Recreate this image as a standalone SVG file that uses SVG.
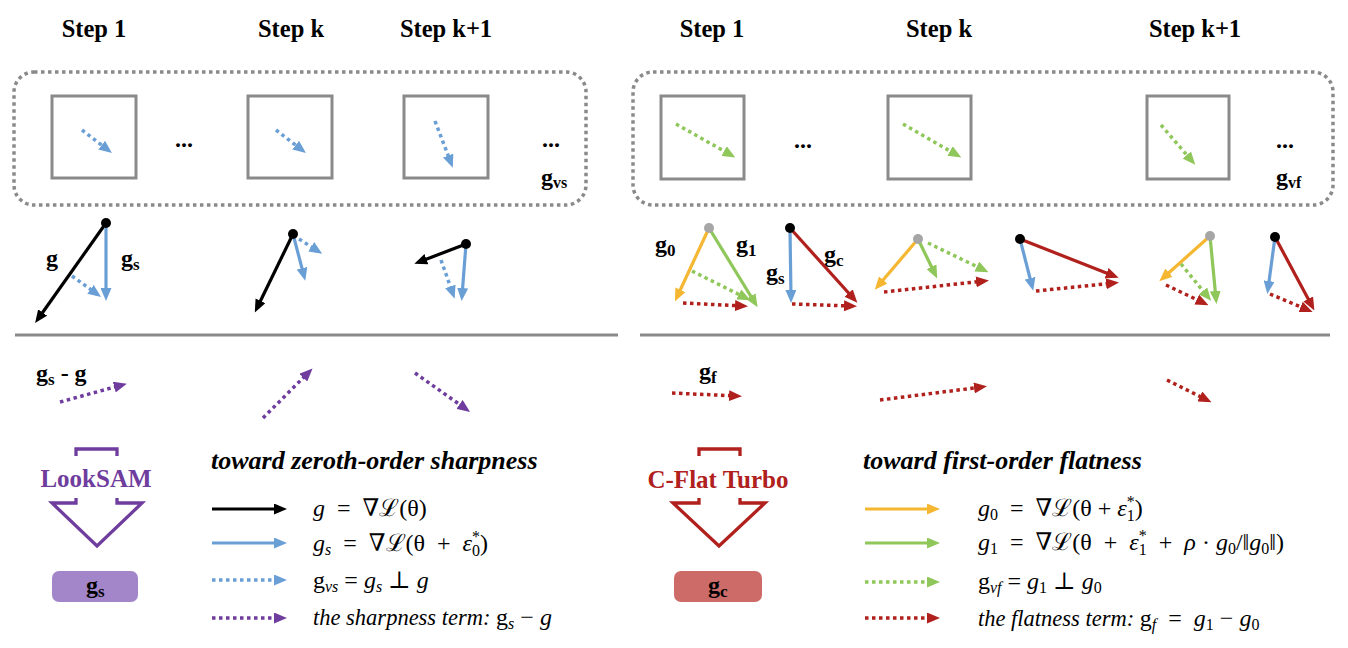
<svg xmlns="http://www.w3.org/2000/svg" width="1348" height="648" viewBox="0 0 1348 648">
<style>
.title{font-family:"Liberation Serif",serif;font-weight:bold;font-size:24.5px;text-anchor:middle;fill:#000}
.lbl{font-family:"Liberation Serif",serif;font-weight:bold;font-size:24px;fill:#000}
.f{font-family:"Liberation Serif","DejaVu Serif",serif;font-size:24px;fill:#000}
.it{font-style:italic;font-size:22.5px}
.hd{font-family:"Liberation Serif",serif;font-weight:bold;font-style:italic;font-size:26px;fill:#000}
.box{fill:none;stroke:#8a8a8a;stroke-width:3}
.frame{fill:none;stroke:#8a8a8a;stroke-width:3.5;stroke-dasharray:3.5 3.5}
.sep{stroke:#8a8a8a;stroke-width:3}
.a{fill:none;stroke-width:3.2}
.d{stroke-dasharray:3.5 3.5;stroke-width:3.5}
.k{stroke:#000}.b{stroke:#6a9fd6}.g{stroke:#8fc75a}.y{stroke:#f5b731}.r{stroke:#b0201c}.p{stroke:#6f3d9e}
</style>
<defs>
<marker id="mk" markerUnits="userSpaceOnUse" markerWidth="13" markerHeight="11" refX="8" refY="5.5" orient="auto"><path d="M0,0 L13,5.5 L0,11 z" fill="#000"/></marker>
<marker id="mb" markerUnits="userSpaceOnUse" markerWidth="13" markerHeight="11" refX="8" refY="5.5" orient="auto"><path d="M0,0 L13,5.5 L0,11 z" fill="#6a9fd6"/></marker>
<marker id="mg" markerUnits="userSpaceOnUse" markerWidth="13" markerHeight="11" refX="8" refY="5.5" orient="auto"><path d="M0,0 L13,5.5 L0,11 z" fill="#8fc75a"/></marker>
<marker id="my" markerUnits="userSpaceOnUse" markerWidth="13" markerHeight="11" refX="8" refY="5.5" orient="auto"><path d="M0,0 L13,5.5 L0,11 z" fill="#f5b731"/></marker>
<marker id="mr" markerUnits="userSpaceOnUse" markerWidth="13" markerHeight="11" refX="8" refY="5.5" orient="auto"><path d="M0,0 L13,5.5 L0,11 z" fill="#b0201c"/></marker>
<marker id="mp" markerUnits="userSpaceOnUse" markerWidth="13" markerHeight="11" refX="8" refY="5.5" orient="auto"><path d="M0,0 L13,5.5 L0,11 z" fill="#6f3d9e"/></marker>
</defs>
<rect width="1348" height="648" fill="#fff"/>

<g id="titles">
<text class="title" x="94" y="37">Step 1</text>
<text class="title" x="291" y="37">Step k</text>
<text class="title" x="446" y="37">Step k+1</text>
<text class="title" x="712" y="37">Step 1</text>
<text class="title" x="939" y="37">Step k</text>
<text class="title" x="1195" y="37">Step k+1</text>
</g>

<g id="left-panel">
<rect class="frame" x="14" y="72" width="572" height="133" rx="20"/>
<rect class="box" x="52" y="96" width="84" height="82"/>
<rect class="box" x="248" y="96" width="84" height="82"/>
<rect class="box" x="404" y="96" width="84" height="82"/>
<text class="lbl" x="184" y="147" text-anchor="middle" font-size="20">...</text>
<text class="lbl" x="551" y="147" text-anchor="middle" font-size="20">...</text>
<text class="lbl" x="541" y="185">g<tspan font-size="16" dy="3">vs</tspan></text>
</g>

<g id="right-panel">
<rect class="frame" x="633" y="72" width="700" height="133" rx="20"/>
<rect class="box" x="661" y="96" width="83" height="83"/>
<rect class="box" x="888" y="96" width="83" height="83"/>
<rect class="box" x="1147" y="96" width="82" height="83"/>
<text class="lbl" x="803" y="148" text-anchor="middle" font-size="20">...</text>
<text class="lbl" x="1285" y="148" text-anchor="middle" font-size="20">...</text>
<text class="lbl" x="1276" y="185">g<tspan font-size="16" dy="3">vf</tspan></text>
</g>

<g id="separators">
<line class="sep" x1="15" y1="335" x2="618" y2="335"/>
<line class="sep" x1="640" y1="335" x2="1330" y2="335"/>
</g>

<g id="labels">
<text class="lbl" x="46" y="266">g</text>
<text class="lbl" x="121" y="266">g<tspan font-size="17" dy="4">s</tspan></text>
<text class="lbl" x="655" y="252">g<tspan font-size="17" dy="4">0</tspan></text>
<text class="lbl" x="736" y="252">g<tspan font-size="17" dy="4">1</tspan></text>
<text class="lbl" x="766" y="280">g<tspan font-size="17" dy="4">s</tspan></text>
<text class="lbl" x="824" y="262">g<tspan font-size="17" dy="4">c</tspan></text>
<text class="lbl" x="36" y="381">g<tspan font-size="17" dy="4">s</tspan><tspan dy="-4" dx="6">- g</tspan></text>
<text class="lbl" x="699" y="379">g<tspan font-size="17" dy="4">f</tspan></text>
</g>

<g id="connectors">
<line class="a d b" x1="82" y1="130" x2="108" y2="150" marker-end="url(#mb)"/>
<line class="a d b" x1="276" y1="130" x2="302" y2="150" marker-end="url(#mb)"/>
<line class="a d b" x1="435" y1="121" x2="451" y2="163" marker-end="url(#mb)"/>
<line class="a d g" x1="676" y1="124" x2="731" y2="155" marker-end="url(#mg)"/>
<line class="a d g" x1="903" y1="124" x2="957" y2="155" marker-end="url(#mg)"/>
<line class="a d g" x1="1161" y1="125" x2="1192" y2="161" marker-end="url(#mg)"/>
<line class="a k" x1="106" y1="223" x2="38" y2="319" marker-end="url(#mk)"/>
<line class="a b" x1="106" y1="223" x2="106" y2="296" marker-end="url(#mb)"/>
<line class="a d b" x1="72" y1="276" x2="97" y2="294" marker-end="url(#mb)"/>
<line class="a k" x1="293" y1="234" x2="257" y2="308" marker-end="url(#mk)"/>
<line class="a b" x1="293" y1="234" x2="304" y2="276" marker-end="url(#mb)"/>
<line class="a d b" x1="299" y1="239" x2="318" y2="251" marker-end="url(#mb)"/>
<line class="a k" x1="466" y1="244" x2="419" y2="262" marker-end="url(#mk)"/>
<line class="a b" x1="466" y1="244" x2="462" y2="296" marker-end="url(#mb)"/>
<line class="a d b" x1="441" y1="260" x2="453" y2="294" marker-end="url(#mb)"/>
<line class="a y" x1="709" y1="228" x2="677" y2="297" marker-end="url(#my)"/>
<line class="a g" x1="709" y1="228" x2="755" y2="303" marker-end="url(#mg)"/>
<line class="a d g" x1="692" y1="271" x2="746" y2="298" marker-end="url(#mg)"/>
<line class="a d r" x1="683" y1="303" x2="743" y2="306" marker-end="url(#mr)"/>
<line class="a b" x1="790" y1="228" x2="791" y2="298" marker-end="url(#mb)"/>
<line class="a r" x1="790" y1="228" x2="854" y2="299" marker-end="url(#mr)"/>
<line class="a d r" x1="792" y1="304" x2="852" y2="306" marker-end="url(#mr)"/>
<line class="a y" x1="918" y1="239" x2="878" y2="286" marker-end="url(#my)"/>
<line class="a g" x1="918" y1="239" x2="935" y2="274" marker-end="url(#mg)"/>
<line class="a d g" x1="928" y1="243" x2="984" y2="270" marker-end="url(#mg)"/>
<line class="a d r" x1="884" y1="292" x2="984" y2="281" marker-end="url(#mr)"/>
<line class="a b" x1="1020" y1="239" x2="1032" y2="286" marker-end="url(#mb)"/>
<line class="a r" x1="1020" y1="239" x2="1114" y2="276" marker-end="url(#mr)"/>
<line class="a d r" x1="1036" y1="291" x2="1114" y2="283" marker-end="url(#mr)"/>
<line class="a y" x1="1210" y1="236" x2="1163" y2="278" marker-end="url(#my)"/>
<line class="a g" x1="1210" y1="236" x2="1216" y2="299" marker-end="url(#mg)"/>
<line class="a d g" x1="1181" y1="264" x2="1208" y2="297" marker-end="url(#mg)"/>
<line class="a d r" x1="1166" y1="285" x2="1204" y2="303" marker-end="url(#mr)"/>
<line class="a b" x1="1275" y1="237" x2="1268" y2="289" marker-end="url(#mb)"/>
<line class="a r" x1="1275" y1="237" x2="1312" y2="306" marker-end="url(#mr)"/>
<line class="a d r" x1="1270" y1="294" x2="1308" y2="310" marker-end="url(#mr)"/>
<line class="a d p" x1="60" y1="402" x2="122" y2="385" marker-end="url(#mp)"/>
<line class="a d p" x1="263" y1="418" x2="309" y2="372" marker-end="url(#mp)"/>
<line class="a d p" x1="415" y1="373" x2="466" y2="409" marker-end="url(#mp)"/>
<line class="a d r" x1="672" y1="393" x2="737" y2="396" marker-end="url(#mr)"/>
<line class="a d r" x1="880" y1="400" x2="982" y2="387" marker-end="url(#mr)"/>
<line class="a d r" x1="1167" y1="380" x2="1207" y2="400" marker-end="url(#mr)"/>
</g>

<g id="vertices">
<circle cx="106" cy="223" r="5" fill="#000"/>
<circle cx="293" cy="234" r="5" fill="#000"/>
<circle cx="466" cy="244" r="5" fill="#000"/>
<circle cx="709" cy="228" r="5" fill="#a6a6a6"/>
<circle cx="790" cy="228" r="5" fill="#000"/>
<circle cx="918" cy="239" r="5" fill="#a6a6a6"/>
<circle cx="1020" cy="239" r="5" fill="#000"/>
<circle cx="1210" cy="236" r="5" fill="#a6a6a6"/>
<circle cx="1275" cy="237" r="5" fill="#000"/>
</g>

<g id="looksam">
<path d="M76,456 L76,449 L117,449 L117,456" fill="none" stroke="#6f3d9e" stroke-width="3.3"/>
<text x="96" y="487" text-anchor="middle" font-family="Liberation Serif, serif" font-weight="bold" font-size="25" fill="#6f3d9e">LookSAM</text>
<path d="M76,498 L76,503 L52,503 L97,546 L142,503 L117,503 L117,498" fill="none" stroke="#6f3d9e" stroke-width="3.3"/>
</g>
<g id="gs-result">
<rect x="52" y="571" width="86" height="31" rx="7" fill="#a386c9"/>
<text class="lbl" x="86" y="593">g<tspan font-size="17" dy="4">s</tspan></text>
</g>

<g id="cflat">
<path d="M699,456 L699,449 L740,449 L740,456" fill="none" stroke="#b0201c" stroke-width="3.3"/>
<text x="718" y="488" text-anchor="middle" font-family="Liberation Serif, serif" font-weight="bold" font-size="25" fill="#b0201c">C-Flat Turbo</text>
<path d="M699,498 L699,503 L673,503 L719,546 L765,503 L740,503 L740,498" fill="none" stroke="#b0201c" stroke-width="3.3"/>
</g>
<g id="gc-result">
<rect x="674" y="571" width="88" height="31" rx="7" fill="#cd6b69"/>
<text class="lbl" x="708" y="593">g<tspan font-size="17" dy="4">c</tspan></text>
</g>

<g id="legend-left">
<text class="hd" x="211" y="469">toward zeroth-order sharpness</text>
<line class="a k" x1="212" y1="509" x2="282" y2="509" marker-end="url(#mk)"/>
<line class="a b" x1="212" y1="543" x2="282" y2="543" marker-end="url(#mb)"/>
<line class="a d b" x1="212" y1="580" x2="282" y2="580" marker-end="url(#mb)"/>
<line class="a d p" x1="212" y1="618" x2="282" y2="618" marker-end="url(#mp)"/>
<text class="f" x="313" y="516"><tspan font-style="italic">g</tspan>&#8194;=&#8194;∇ℒ(θ)</text>
<text class="f" x="313" y="551"><tspan font-style="italic">g<tspan font-size="16" dy="4">s</tspan></tspan><tspan dy="-4">&#8194;=&#8194;∇ℒ(θ&#8194;+&#8194;</tspan><tspan font-style="italic">ε</tspan><tspan font-size="16" dy="5">0</tspan><tspan font-size="16" dx="-8" dy="-14">*</tspan><tspan dy="9">)</tspan></text>
<text class="f" x="313" y="588">g<tspan font-style="italic" font-size="16" dy="4">vs</tspan><tspan dy="-4"> = </tspan><tspan font-style="italic">g<tspan font-size="16" dy="4">s</tspan></tspan><tspan dy="-4"> ⊥ </tspan><tspan font-style="italic">g</tspan></text>
<text class="f" x="313" y="625"><tspan class="it">the sharpness term: </tspan>g<tspan font-style="italic" font-size="16" dy="4">s</tspan><tspan dy="-4"> − </tspan><tspan font-style="italic">g</tspan></text>
</g>

<g id="legend-right">
<text class="hd" x="863" y="469">toward first-order flatness</text>
<line class="a y" x1="865" y1="509" x2="935" y2="509" marker-end="url(#my)"/>
<line class="a g" x1="865" y1="543" x2="935" y2="543" marker-end="url(#mg)"/>
<line class="a d g" x1="865" y1="582" x2="935" y2="582" marker-end="url(#mg)"/>
<line class="a d r" x1="865" y1="618" x2="935" y2="618" marker-end="url(#mr)"/>
<text class="f" x="978" y="516"><tspan font-style="italic">g</tspan><tspan font-size="16" dy="4">0</tspan><tspan dy="-4">&#8194;=&#8194;∇ℒ(θ + </tspan><tspan font-style="italic">ε</tspan><tspan font-size="16" dy="5">1</tspan><tspan font-size="16" dx="-8" dy="-14">*</tspan><tspan dy="9">)</tspan></text>
<text class="f" x="978" y="550"><tspan font-style="italic">g</tspan><tspan font-size="16" dy="4">1</tspan><tspan dy="-4">&#8194;=&#8194;∇ℒ(θ&#8194;+&#8194;</tspan><tspan font-style="italic">ε</tspan><tspan font-size="16" dy="5">1</tspan><tspan font-size="16" dx="-8" dy="-14">*</tspan><tspan dy="9">&#8194;+&#8194;</tspan><tspan font-style="italic">ρ</tspan> · <tspan font-style="italic">g</tspan><tspan font-size="16" dy="4">0</tspan><tspan dy="-4">/‖</tspan><tspan font-style="italic">g</tspan><tspan font-size="16" dy="4">0</tspan><tspan dy="-4">‖)</tspan></text>
<text class="f" x="978" y="589">g<tspan font-style="italic" font-size="16" dy="4">vf</tspan><tspan dy="-4"> = </tspan><tspan font-style="italic">g</tspan><tspan font-size="16" dy="4">1</tspan><tspan dy="-4"> ⊥ </tspan><tspan font-style="italic">g</tspan><tspan font-size="16" dy="4">0</tspan></text>
<text class="f" x="978" y="626"><tspan class="it">the flatness term: </tspan>g<tspan font-style="italic" font-size="16" dy="4">f</tspan><tspan dy="-4">&#8194;=&#8194;</tspan><tspan font-style="italic">g</tspan><tspan font-size="16" dy="4">1</tspan><tspan dy="-4"> − </tspan><tspan font-style="italic">g</tspan><tspan font-size="16" dy="4">0</tspan></text>
</g>
</svg>
